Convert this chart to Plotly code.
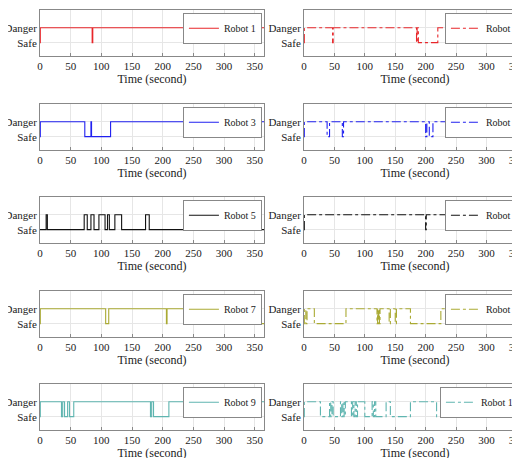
import plotly.graph_objects as go

# switching times (seconds); each robot starts "Safe" (0) and toggles state at every time listed
robot1 = [0.5, 85, 86, 275, 276]
robot2 = [0.5, 47, 48, 185, 186, 188, 220]
robot3 = [0.5, 73, 83, 84, 115, 340, 344]
robot4 = [0.5, 38, 42, 63, 65, 200, 202, 206, 212, 281, 285]
robot5 = [10, 12, 72, 77, 83, 88, 96, 106, 110, 113, 122, 133, 172, 178, 340, 341]
robot6 = [0.5, 200, 201]
robot7 = [0.5, 107, 112, 206, 207, 345]
robot8 = [0.5, 3, 5, 17, 69, 120, 121, 122, 123, 124, 125, 140, 142, 150, 152, 175,
          225, 260, 262, 278, 282, 290, 295, 300, 303, 310, 312, 330, 360]
robot9 = [0.5, 35, 37, 40, 45, 48, 55, 180, 182, 185, 210, 268, 270, 274, 282]
robot10 = [0.5, 27, 42, 44, 46, 48, 60, 62, 64, 66, 68, 78, 80, 82, 84, 86, 88, 100,
           112, 114, 116, 118, 135, 142, 175, 218, 260, 285, 330, 332, 334, 336, 338,
           340, 345, 348, 358, 362]
t_end = 365

series = [robot1, robot2, robot3, robot4, robot5, robot6, robot7, robot8, robot9, robot10]
names = ["Robot %d" % (i + 1) for i in range(10)]
colors = ["#e8262a", "#e8262a", "#2020f0", "#2020f0", "#111111", "#111111",
          "#aaaa33", "#aaaa33", "#5fb5b0", "#5fb5b0"]

FONT = "Liberation Serif"
W, H = 520, 458
row_tops = [2, 96, 189, 283, 376]
ph = 46

fig = go.Figure()
for i, toggles in enumerate(series):
    xs = [0] + toggles + [t_end]
    ys = [0]
    s = 0
    for _ in toggles:
        s = 1 - s
        ys.append(s)
    ys.append(s)
    k = i + 1
    sfx = "" if k == 1 else str(k)
    fig.add_trace(go.Scatter(
        x=xs, y=ys, mode="lines", line_shape="hv", name=names[i], showlegend=True,
        line=dict(color=colors[i], width=1.1, dash="solid" if i % 2 == 0 else "dashdot"),
        xaxis="x" + sfx, yaxis="y" + sfx, legend="legend" + sfx))

    col = i % 2
    row = i // 2
    x0 = (32 if col == 0 else 296) / W
    x1 = (256 if col == 0 else 518) / W
    y1 = 1 - row_tops[row] / H
    y0 = 1 - (row_tops[row] + ph) / H
    fig.update_layout(**{
        "xaxis" + sfx: dict(domain=[x0, x1], anchor="y" + sfx, range=[0, t_end],
                            tickvals=[0, 50, 100, 150, 200, 250, 300, 350],
                            showgrid=True, gridcolor="#e6e6e6", zeroline=False,
                            showline=True, linecolor="#888", mirror=True,
                            ticks="inside", ticklen=3, tickcolor="#888", automargin=False,
                            tickfont=dict(size=11, family=FONT, color="#222"),
                            title=dict(text="Time (second)", standoff=2,
                                       font=dict(size=12, family=FONT, color="#222"))),
        "yaxis" + sfx: dict(domain=[y0, y1], anchor="x" + sfx, range=[-0.9, 2.2],
                            tickvals=[0, 1], ticktext=["Safe", "Danger"],
                            showgrid=True, gridcolor="#e6e6e6", zeroline=False,
                            showline=True, linecolor="#888", mirror=True, automargin=False,
                            ticks="", tickfont=dict(size=11, family=FONT, color="#222")),
        "legend" + sfx: dict(x=x1 - 0.004, y=y1 - 0.006, xanchor="right", yanchor="top",
                             bgcolor="white", bordercolor="#888", borderwidth=1,
                             font=dict(size=10, family=FONT, color="#222"),
                             itemwidth=30, tracegroupgap=0),
    })

fig.update_layout(width=W, height=H, margin=dict(l=0, r=0, t=0, b=0, autoexpand=False),
                  plot_bgcolor="white", paper_bgcolor="white")
fig.write_html("out.html")
